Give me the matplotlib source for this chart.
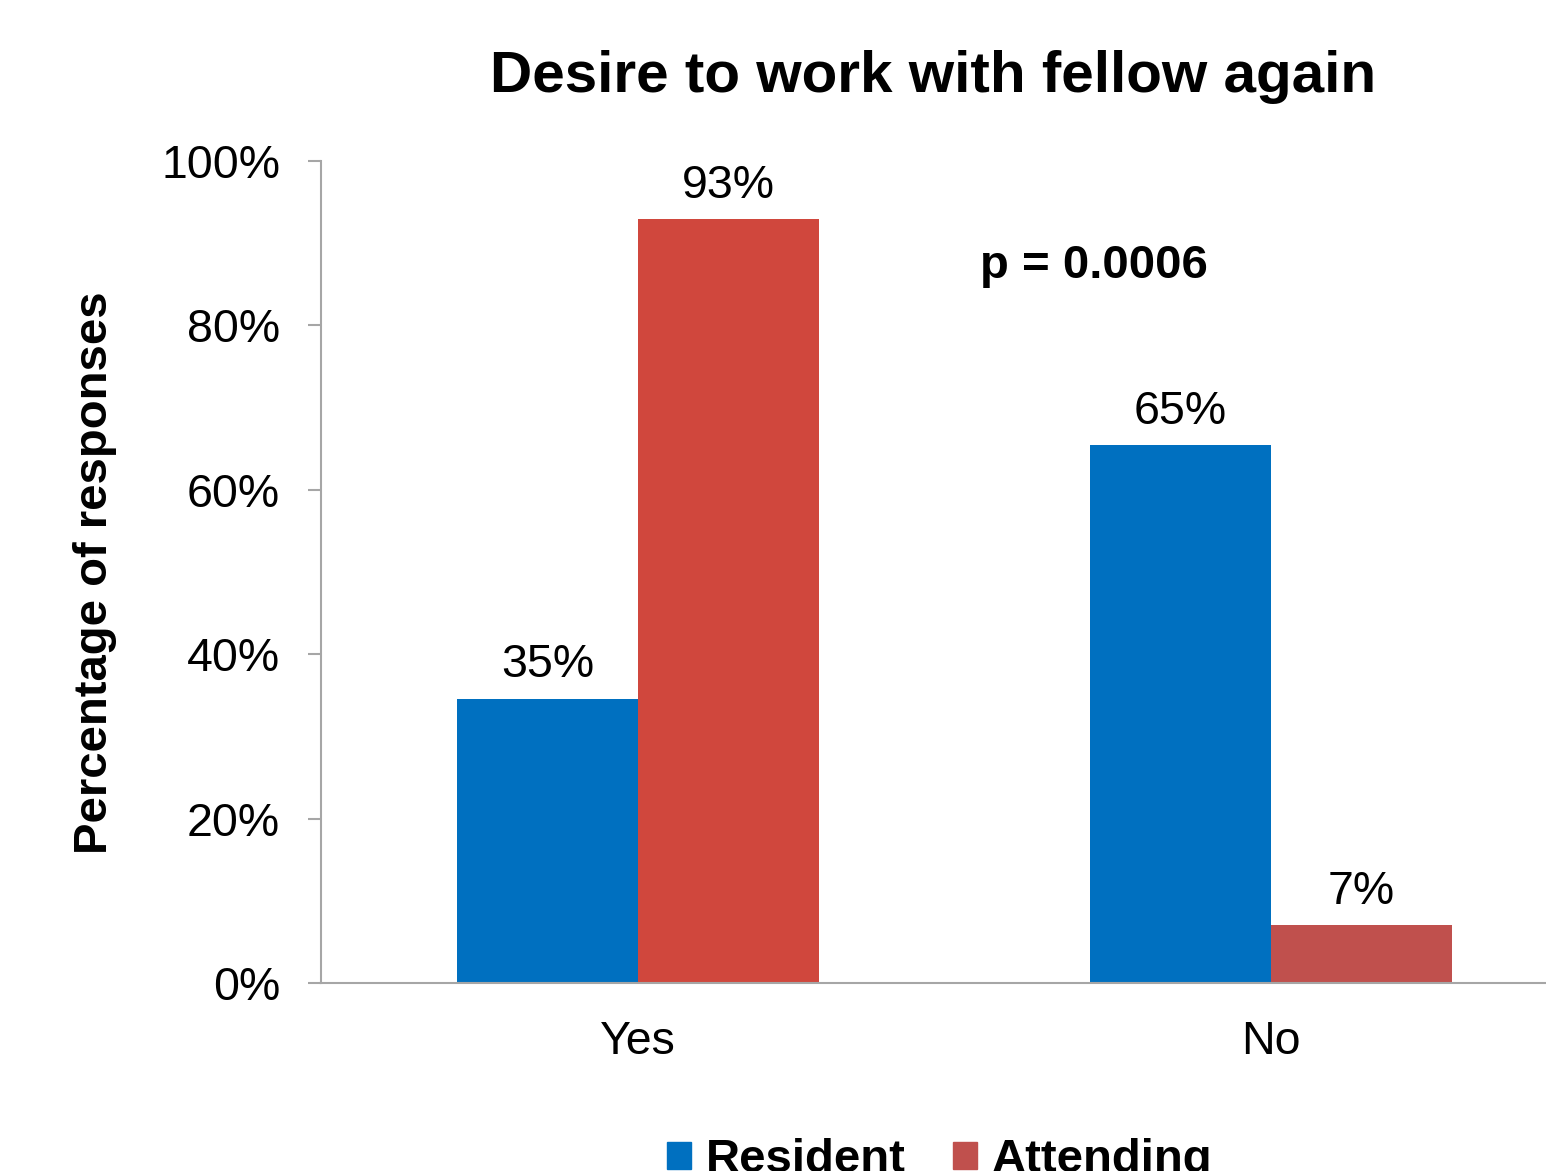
import matplotlib
matplotlib.use("Agg")
import matplotlib.pyplot as plt
from matplotlib.patches import Patch
from matplotlib.ticker import FuncFormatter

plt.rcParams['font.family'] = ['Liberation Sans', 'DejaVu Sans']

categories = ["Yes", "No"]
series_names = ["Resident", "Attending"]
resident = [0.346, 0.654]
attending = [0.929, 0.071]
value_labels_res = ["35%", "65%"]
value_labels_att = ["93%", "7%"]
yticks = [0, 0.2, 0.4, 0.6, 0.8, 1.0]

c_res = "#0070C0"
c_att_bars = ["#D0473D", "#C0504D"]
c_att_leg = "#C0504D"
spine_c = "#A6A6A6"

W, H = 1546, 1171
fig = plt.figure(figsize=(W / 100, H / 100), dpi=100)
ax = fig.add_axes([321 / W, 1 - 983 / H, (W - 321) / W, 822 / H])

w = 0.286
x = list(range(len(categories)))
b1 = ax.bar([i - w / 2 for i in x], resident, width=w, color=c_res, linewidth=0)
b2 = ax.bar([i + w / 2 for i in x], attending, width=w, color=c_att_bars, linewidth=0)

for bars, labels in ((b1, value_labels_res), (b2, value_labels_att)):
    for r, lab in zip(bars, labels):
        ax.annotate(lab, (r.get_x() + r.get_width() / 2, r.get_height()),
                    xytext=(0, 8), textcoords="offset points",
                    ha="center", va="bottom", fontsize=33.5)

ax.set_xlim(-0.5008, 1.435)
ax.set_ylim(0, 1)
ax.set_yticks(yticks)
ax.yaxis.set_major_formatter(FuncFormatter(lambda v, p: f"{v*100:.0f}%"))
ax.set_xticks(x)
ax.set_xticklabels(categories)

for s in ("top", "right"):
    ax.spines[s].set_visible(False)
for s in ("left", "bottom"):
    ax.spines[s].set_color(spine_c)
    ax.spines[s].set_linewidth(1.5)

ax.tick_params(axis="y", direction="out", length=9.4, width=1.5, color=spine_c,
               labelsize=33.5, pad=20)
ax.tick_params(axis="x", length=0, labelsize=33.5, pad=27)

ax.set_title("Desire to work with fellow again", fontsize=42, fontweight="bold", pad=50)

fig.text(95 / W, 1 - 573 / H, "Percentage of responses", rotation=90,
         ha="center", va="center", fontsize=34, fontweight="bold")

ax.text(0.541, 0.872, "p = 0.0006", ha="left", va="center", fontsize=34, fontweight="bold")

handles = [Patch(color=c_res, label=series_names[0]),
           Patch(color=c_att_leg, label=series_names[1])]
leg = fig.legend(handles=handles, loc="center", bbox_to_anchor=(940 / W, 1 - 1160 / H),
                 ncol=2, frameon=False, prop={"size": 34, "weight": "bold"},
                 handlelength=0.5, handleheight=0.5, handletextpad=0.32,
                 columnspacing=1.0, borderpad=0, borderaxespad=0)

fig.savefig("out.png", dpi=100)
